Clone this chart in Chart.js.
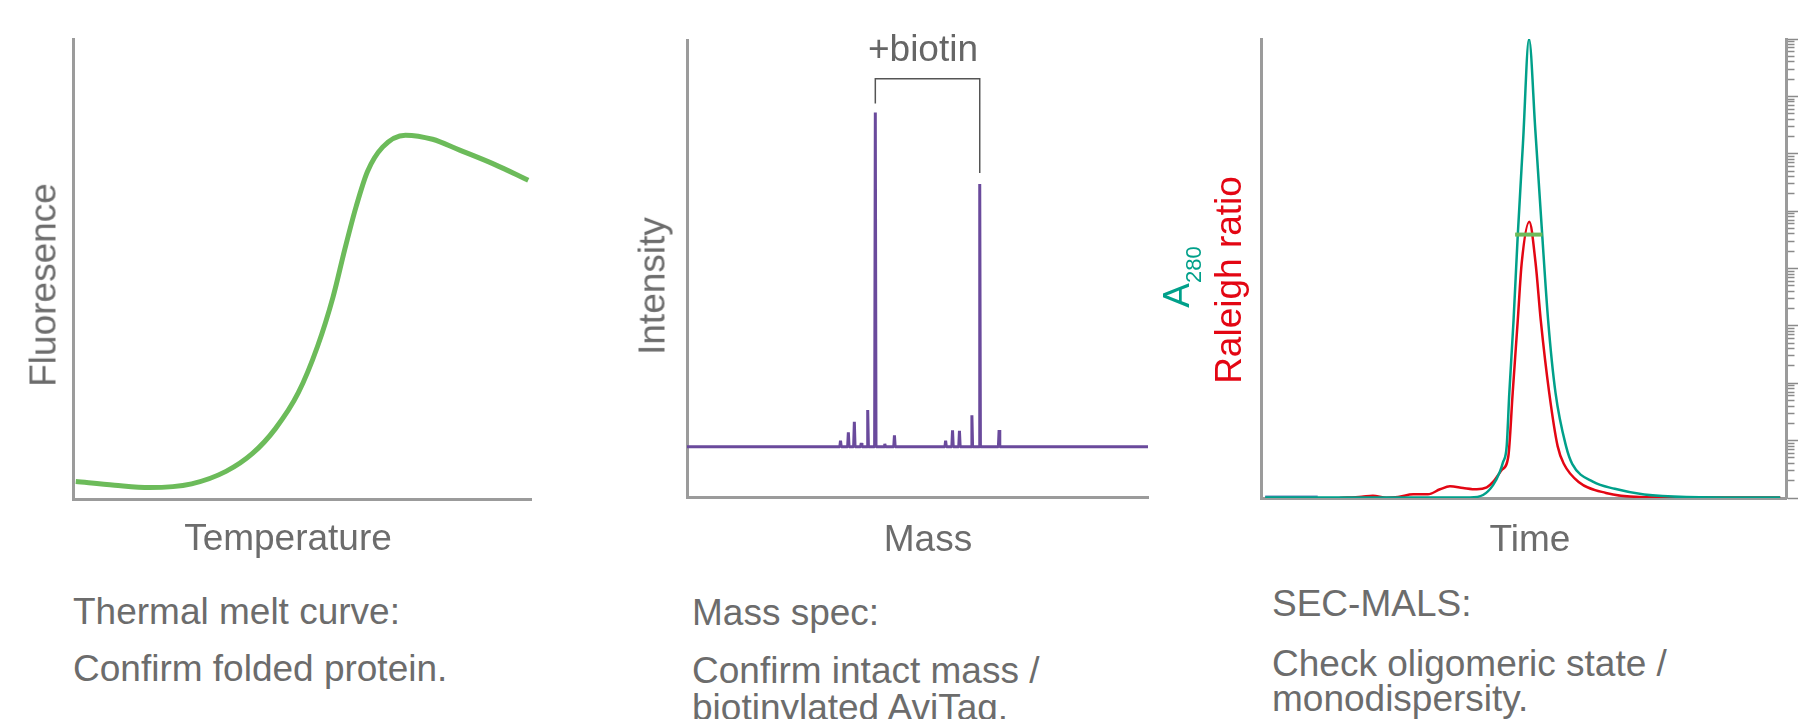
<!DOCTYPE html>
<html>
<head>
<meta charset="utf-8">
<script src="https://cdn.jsdelivr.net/npm/chart.js@4.4.1/dist/chart.umd.min.js"></script>
<style>
  html, body { margin: 0; padding: 0; background: #fff; }
  body { width: 1820px; height: 719px; position: relative; overflow: hidden;
         font-family: "Liberation Sans", Arial, sans-serif; color: #6c6c6c; }
  .box { position: absolute; }
  .txt { position: absolute; font-size: 37px; line-height: 37px; white-space: nowrap; }
  .ctr { transform: translateX(-50%); }
  .rot { transform: translate(-50%, -50%) rotate(-90deg); }
  .sub { font-size: 22px; position: relative; top: 12px; line-height: 0; }
</style>
</head>
<body>

<div class="box" style="left:0;top:0;width:600px;height:560px"><canvas id="melt"></canvas></div>
<div class="box" style="left:620px;top:0;width:560px;height:560px"><canvas id="mass"></canvas></div>
<div class="box" style="left:1140px;top:0;width:680px;height:560px"><canvas id="sec"></canvas></div>

<!-- axis titles -->
<div class="txt rot" style="left:43px;top:285px">Fluoresence</div>
<div class="txt ctr" style="left:288px;top:519px">Temperature</div>

<div class="txt rot" style="left:652px;top:286px">Intensity</div>
<div class="txt ctr" style="left:928px;top:520px">Mass</div>
<div class="txt ctr" style="left:923px;top:30px;color:#666">+biotin</div>

<div class="txt rot" style="left:1176px;top:277px;color:#00a08a">A<span class="sub">280</span></div>
<div class="txt rot" style="left:1228px;top:280px;color:#e30613">Raleigh ratio</div>
<div class="txt ctr" style="left:1530px;top:520px">Time</div>

<!-- captions -->
<div class="txt" style="left:73px;top:593px">Thermal melt curve:</div>
<div class="txt" style="left:73px;top:650px">Confirm folded protein.</div>

<div class="txt" style="left:692px;top:594px">Mass spec:</div>
<div class="txt" style="left:692px;top:652px">Confirm intact mass /</div>
<div class="txt" style="left:692px;top:689px">biotinylated AviTag.</div>

<div class="txt" style="left:1272px;top:585px">SEC-MALS:</div>
<div class="txt" style="left:1272px;top:645px">Check oligomeric state /</div>
<div class="txt" style="left:1272px;top:680px">monodispersity.</div>

<script>
// thermal melt
const meltTemp  = [0.6, 9.1, 16.7, 25.9, 33.4, 39.2, 44.2, 49.2, 53.4, 56.8, 59.3, 61.8, 64.3, 67.6, 72.6, 78.5, 84.3, 91.9, 99.4];
const meltFluor = [3.8, 3.0, 2.5, 3.3, 6.0, 9.9, 15.3, 23.1, 33.2, 44.0, 54.1, 63.5, 71.2, 76.5, 79.1, 78.2, 75.9, 72.8, 69.3];

// mass spec peaks (baseline = 0)
const peakMass      = [333, 350, 363, 378, 392, 408.5, 429, 450, 561, 576, 591, 618, 635, 677];
const peakIntensity = [1.5, 3.5, 6.1, 0.9, 9.0, 82.2, 0.7, 2.8, 1.5, 4.0, 3.9, 7.7, 64.6, 4.1];
const bracketMass      = [408.5, 408.5, 635, 635];
const bracketIntensity = [84.4, 90.5, 90.5, 67.3];

// SEC-MALS
const a280Time   = [0.8, 39.8, 42.3, 44.2, 45.5, 46.1, 46.8, 47.3, 48.1, 48.9, 49.9, 51.05, 52.25, 53.5, 54.7, 56.1, 58.1, 59.3, 63.3, 67.4, 73.0, 81.0, 98.9];
const a280Values = [0.1, 0.13, 0.65, 2.8, 5.7, 7.8, 11.3, 22.9, 38.6, 57.1, 77.3, 100, 80.2, 58.4, 38.6, 22.9, 11.3, 7.4, 3.5, 2.0, 0.74, 0.22, 0.1];
const rayleighTime   = [15.0, 19.2, 21.3, 23.9, 26.1, 29.0, 31.8, 34.1, 36.0, 38.5, 41.1, 43.0, 44.25, 45.85, 47.1, 47.94, 48.9, 49.66, 51.1, 52.3, 53.3, 54.9, 56.5, 57.7, 60.5, 65.7, 72.2, 83.6, 98.9];
const rayleighValues = [0, 0.28, 0.5, 0.07, 0.22, 0.81, 0.81, 1.9, 2.55, 2.18, 1.9, 2.33, 3.55, 6.1, 9.0, 22.9, 38.6, 51.2, 60.2, 51.2, 38.6, 22.9, 11.3, 7.4, 3.5, 1.1, 0.22, 0.1, 0.1];
const riTime   = [0.8, 5.0, 10.8];
const riValues = [0.3, 0.35, 0.3];
const massBarTime = [48.4, 53.6];
const molarMass   = [39000, 39000];

const axisGray = '#9b9b9b';
const pts = (xs, ys) => xs.map((x, i) => ({ x: x, y: ys[i] }));

function plainAxis(min, max, extra) {
  return Object.assign({
    type: 'linear', min: min, max: max,
    ticks: { display: false },
    grid: { display: false, drawTicks: false },
    border: { display: true, color: axisGray, width: 3 }
  }, extra || {});
}

const common = {
  animation: false,
  responsive: true,
  maintainAspectRatio: false,
  plugins: { legend: { display: false }, tooltip: { enabled: false } },
  elements: { point: { radius: 0 } }
};

// thermal melt curve
new Chart(document.getElementById('melt'), {
  type: 'line',
  data: {
    datasets: [{
      data: pts(meltTemp, meltFluor),
      borderColor: '#6cbb5a',
      borderWidth: 5,
      cubicInterpolationMode: 'monotone'
    }]
  },
  options: Object.assign({}, common, {
    layout: { padding: { left: 73, right: 69, top: 39, bottom: 61 } },
    scales: { x: plainAxis(0, 100), y: plainAxis(0, 100) }
  })
});

// mass spectrum, built from the peak lists
const spectrum = [{ x: 0, y: 0 }];
peakMass.forEach((m, i) => {
  spectrum.push({ x: m - 1.5, y: 0 }, { x: m, y: peakIntensity[i] }, { x: m + 1.5, y: 0 });
});
spectrum.push({ x: 1000, y: 0 });

new Chart(document.getElementById('mass'), {
  type: 'line',
  data: {
    datasets: [
      { data: pts(bracketMass, bracketIntensity), borderColor: '#555', borderWidth: 1.5, tension: 0 },
      { data: spectrum, borderColor: '#6a4a9c', borderWidth: 3, tension: 0, borderJoinStyle: 'bevel' }
    ]
  },
  options: Object.assign({}, common, {
    layout: { padding: { left: 67, right: 32, top: 40, bottom: 62.5 } },
    scales: { x: plainAxis(0, 1000), y: plainAxis(-12.5, 100) }
  })
});

// SEC-MALS
const logTicks = [];
for (let e = 0; e < 8; e++) {
  for (let m = 1; m < 10; m++) logTicks.push(m * Math.pow(10, e));
}
logTicks.push(1e8);
const isDecade = v => Math.abs(Math.log10(v) - Math.round(Math.log10(v))) < 1e-9;

new Chart(document.getElementById('sec'), {
  type: 'line',
  data: {
    datasets: [
      { data: pts(massBarTime, molarMass), yAxisID: 'y2', borderColor: '#6cbb5a', borderWidth: 4, tension: 0 },
      { data: pts(a280Time, a280Values), borderColor: '#00a08a', borderWidth: 2.5, cubicInterpolationMode: 'monotone' },
      { data: pts(rayleighTime, rayleighValues), borderColor: '#e30613', borderWidth: 2.5, cubicInterpolationMode: 'monotone' },
      { data: pts(riTime, riValues), borderColor: 'rgba(60,100,170,0.8)', borderWidth: 2, tension: 0 }
    ]
  },
  options: Object.assign({}, common, {
    layout: { padding: { left: 121, right: 22, top: 39, bottom: 62 } },
    scales: {
      x: plainAxis(0, 100),
      y: plainAxis(0, 100),
      y2: {
        type: 'logarithmic', position: 'right', min: 1, max: 1e8,
        ticks: { display: false },
        afterBuildTicks: axis => { axis.ticks = logTicks.map(v => ({ value: v, major: isDecade(v) })); },
        grid: {
          display: true, drawOnChartArea: false, drawTicks: true, tickLength: 12,
          tickColor: '#8a8a8a', tickWidth: 1.5,
          tickBorderDash: ctx => (ctx.tick && isDecade(ctx.tick.value)) ? [] : [6.5, 40]
        },
        border: { display: true, color: axisGray, width: 3 }
      }
    }
  })
});
</script>
</body>
</html>
